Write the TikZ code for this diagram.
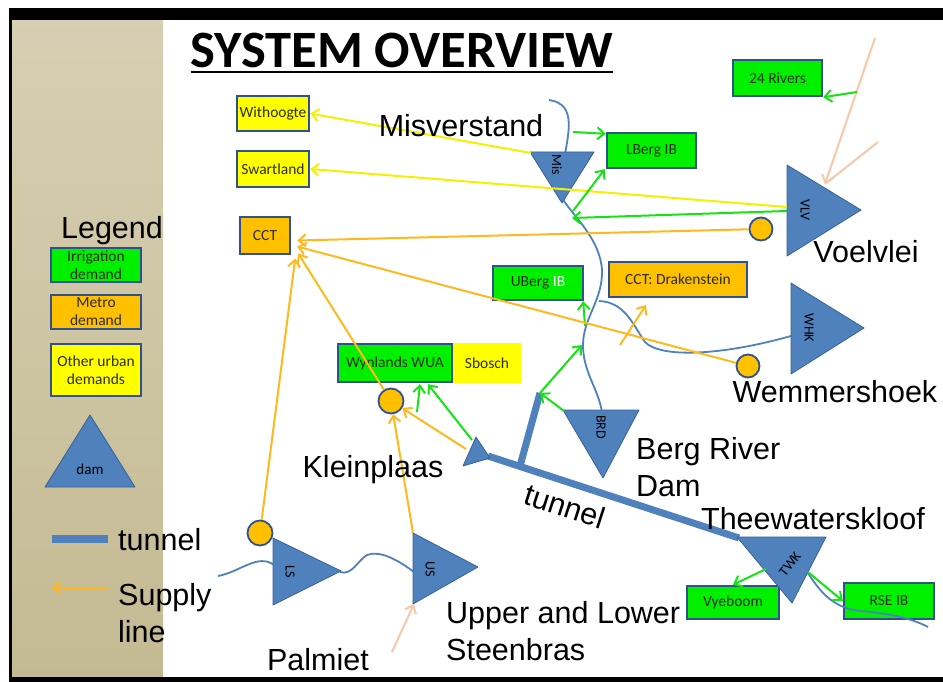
\documentclass[tikz,border=0pt]{standalone}
\usepackage{fontspec}
\setmainfont{Liberation Sans}
\newfontfamily\calibri{Carlito}
\usepackage{tikz}
\usetikzlibrary{arrows.meta,calc}

\definecolor{damblue}{RGB}{79,129,189}
\definecolor{damedge}{RGB}{58,98,150}
\definecolor{boxblue}{RGB}{47,82,143}
\definecolor{irrgreen}{RGB}{0,240,0}
\definecolor{metroorange}{RGB}{255,192,0}
\definecolor{urbanyellow}{RGB}{255,255,0}
\definecolor{linegreen}{RGB}{20,228,20}
\definecolor{lineorange}{RGB}{255,185,30}
\definecolor{lineyellow}{RGB}{245,240,0}
\definecolor{peach}{RGB}{248,200,170}
\definecolor{panel}{RGB}{196,186,146}
\definecolor{boxtext}{RGB}{45,45,30}
\newcommand{\lblfont}{\fontsize{30.5}{37}\selectfont}
\newcommand{\boxfont}{\calibri\fontsize{15.5}{18}\selectfont}

\begin{document}
\begin{tikzpicture}[x=1pt, y=-1pt,
  every node/.style={font=\lblfont, inner sep=0pt},
  demand/.style={draw=boxblue, line width=2.4pt, font=\boxfont, text=boxtext, align=center},
  irrig/.style={demand, fill=irrgreen},
  metro/.style={demand, fill=metroorange},
  urban/.style={demand, fill=urbanyellow},
  damshape/.style={fill=damblue, draw=damedge, line width=0.8pt, line join=round},
  damname/.style={font=\calibri\fontsize{14}{16}\selectfont, rotate=-90},
  offtake/.style={circle, draw=boxblue, fill=metroorange, line width=1.8pt, minimum size=23pt},
  river/.style={draw=damblue, line width=1.8pt},
  tunnelline/.style={draw=damblue, line width=7pt},
  flowtip/.style={-{Straight Barb[length=7pt,width=12pt]}},
  irrflow/.style={flowtip, draw=linegreen, line width=2pt},
  metroflow/.style={flowtip, draw=lineorange, line width=2pt},
  urbanflow/.style={flowtip, draw=lineyellow, line width=2pt},
  inflow/.style={flowtip, draw=peach, line width=2pt}]
  \useasboundingbox (0,0) rectangle (943,682);
  % frame and legend panel
  \fill[white] (0,0) rectangle (943,682);
  \shade[top color=panel!70!white, bottom color=panel] (11,20) rectangle (163,678);
  \fill[black] (9,8) rectangle (943,20);
  \fill[black] (9,8) rectangle (12,682);
  \fill[black] (9,677) rectangle (943,682);
  % title
  \node[anchor=base, font=\calibri\bfseries\fontsize{52.5}{60}\selectfont] (title) at (402,68) {SYSTEM OVERVIEW};
  \draw[line width=2.5pt] ([yshift=-4pt]title.base west) -- ([yshift=-4pt]title.base east);

  % legend
  \node[anchor=base] (legend) at (112,238) {Legend};
  \node[irrig, minimum width=90, minimum height=34] (legirr) at (96,265) {Irrigation\\demand};
  \node[metro, minimum width=90, minimum height=34] (legmetro) at (96,312) {Metro\\demand};
  \node[urban, minimum width=90, minimum height=52] (legurban) at (96,370) {Other urban\\demands};
  \filldraw[damshape] (90,415) -- (135,487) -- (45,487) -- cycle;
  \node[font=\calibri\fontsize{15}{16}\selectfont] (legdam) at (90,469) {dam};
  \coordinate (legtunA) at (52,539);
  \coordinate (legtunB) at (108,539);
  \draw[tunnelline, line width=8pt] (legtunA) -- (legtunB);
  \node[anchor=base west] (legtun) at (118,550) {tunnel};
  \coordinate (legsupA) at (108,588);
  \coordinate (legsupB) at (52,588);
  \draw[metroflow] (legsupA) -- (legsupB);
  \node[anchor=north west, align=left] (legsup) at (118,583) {Supply\\line};

  % demands
  \node[urban, minimum width=72, minimum height=35] (withoogte) at (273,113.5) {Withoogte};
  \node[urban, minimum width=72, minimum height=36] (swartland) at (273,169) {Swartland};
  \node[metro, minimum width=50, minimum height=37] (cct) at (265,235.5) {CCT};
  \node[irrig, minimum width=89, minimum height=36] (rivers24) at (777.5,78) {24 Rivers};
  \node[irrig, minimum width=89, minimum height=35] (lberg) at (651.5,150.5) {LBerg IB};
  \node[irrig, minimum width=90, minimum height=34] (uberg) at (538,283) {UBerg \textcolor{white}{IB}};
  \node[metro, minimum width=138, minimum height=35] (drakenstein) at (678,279.5) {CCT: Drakenstein};
  \node[fill=urbanyellow, font=\boxfont, text=boxtext, minimum width=68, minimum height=40] (sbosch) at (487,363) {Sbosch};
  \node[irrig, minimum width=114, minimum height=38] (wynlands) at (395,363) {Wynlands WUA};
  \node[irrig, minimum width=92, minimum height=33] (vyeboom) at (733,602.5) {Vyeboom};
  \node[irrig, minimum width=90, minimum height=36] (rseib) at (889,601) {RSE IB};

  % rivers
  \draw[river] (549,100) .. controls (578,104) and (568,135) .. (563,165);
  \draw[river] (562,198) .. controls (572,215) and (600,238) .. (602,270)
    .. controls (603,300) and (583,318) .. (583,345)
    .. controls (583,372) and (598,388) .. (602,412);
  \draw[river] (599,301) .. controls (625,302) and (633,325) .. (645,342)
    .. controls (660,358) and (720,356) .. (791,336);
  \draw[river] (808,573) .. controls (822,595) and (835,608) .. (860,611)
    .. controls (895,614) and (915,620) .. (928,627);
  \draw[river] (218,576) .. controls (240,572) and (258,553) .. (274,565);
  \draw[river] (340,572) .. controls (352,576) and (358,560) .. (367,555)
    .. controls (380,550) and (398,560) .. (414,572);

  % tunnel
  \coordinate (tunS) at (488,456);
  \coordinate (twkT) at (739,538);
  \coordinate (tunJ) at (520,466);
  \coordinate (tunT) at (540,393);
  \draw[tunnelline] (tunS) -- (twkT);
  \draw[tunnelline] (tunJ) -- (tunT);

  % dams
  \filldraw[damshape] (530,152) -- (594,152) -- (562,203) -- cycle;
  \node[damname] (mis) at (557,165) {Mis};
  \filldraw[damshape] (787,165) -- (861,210) -- (787,256) -- cycle;
  \node[damname] (vlv) at (805,210) {VLV};
  \filldraw[damshape] (791,283) -- (864,328) -- (791,374) -- cycle;
  \node[damname] (whk) at (809,328) {WHK};
  \filldraw[damshape] (563,410) -- (639,410) -- (603,478) -- cycle;
  \node[damname] (brd) at (601,427) {BRD};
  \filldraw[damshape] (463,466) -- (476,437) -- (490,458) -- cycle;
  \filldraw[damshape] (273,538) -- (341,571) -- (273,605) -- cycle;
  \node[damname] (ls) at (290,572) {LS};
  \filldraw[damshape] (413,533) -- (478,567) -- (413,604) -- cycle;
  \node[damname] (us) at (430,569) {US};
  \filldraw[damshape] (737,537) -- (826,537) -- (792,603) -- cycle;
  \node[damname, rotate=142] (twk) at (790,564) {TWK};

  % off-takes
  \node[offtake] (vlvc) at (761,229) {};
  \node[offtake] (whkc) at (748,366) {};
  \node[offtake, minimum size=25pt] (klc) at (391,401) {};
  \node[offtake, minimum size=25pt] (lsc) at (260,533) {};

  % tap points
  \coordinate (misW) at (531,153);
  \coordinate (vlvW) at (787,207);
  \coordinate (vlvG) at (787,211);
  \coordinate (vlvP) at (825,184);
  \coordinate (inS) at (875,38);
  \coordinate (inB) at (878,142);
  \coordinate (inJ) at (857,92);
  \coordinate (bergA) at (572,218);
  \coordinate (bergB) at (573,211);
  \coordinate (bergC) at (573,132);
  \coordinate (bergD) at (582,345);
  \coordinate (bergE) at (585,326);
  \coordinate (brdA) at (564,411);
  \coordinate (klA) at (472,440);
  \coordinate (klB) at (466,449);
  \coordinate (klD) at (417,412);
  \coordinate (usT) at (413,533);
  \coordinate (usP) at (414,604);
  \coordinate (palS) at (392,652);
  \coordinate (twkA) at (766,569);
  \coordinate (twkB) at (808,572);
  \coordinate (drkA) at (620,345);
  \coordinate (drkB) at (646,305);

  % inflows
  \draw[inflow] (inS) -- (vlvP);
  \draw[draw=peach, line width=2pt] (inB) -- (vlvP);
  \draw[inflow] (palS) -- (usP);

  % urban supply
  \draw[urbanflow] (misW) -- (withoogte.east);
  \draw[urbanflow] (vlvW) -- (swartland.east);

  % irrigation supply
  \draw[irrflow] (inJ) -- (rivers24.south east);
  \draw[irrflow] (vlvG) -- (bergA);
  \draw[irrflow] (bergB) -- ([xshift=-1pt]lberg.south west);
  \draw[irrflow] (bergC) -- ([yshift=-2pt]lberg.north west);
  \draw[irrflow] (brdA) -- (tunT);
  \draw[irrflow] (tunT) -- (bergD);
  \draw[irrflow] (bergE) -- ([xshift=-1pt]uberg.south east);
  \draw[irrflow] (klA) -- ($(wynlands.south)+(33,1)$);
  \draw[irrflow] (klD) -- ($(wynlands.south)+(25,1)$);
  \draw[irrflow] (twkA) -- (vyeboom.north);
  \draw[irrflow] (twkB) -- (rseib.west);

  % metro supply
  \draw[metroflow] (vlvc) -- ($(cct.east)+(6,5)$);
  \draw[metroflow] (whkc) -- ($(cct.east)+(6,11)$);
  \draw[metroflow] (klc) -- ($(cct.east)+(7,18)$);
  \draw[metroflow] (lsc) -- ($(cct.east)+(4,23)$);
  \draw[metroflow] (klB) -- (klc);
  \draw[metroflow] (usT) -- (klc);
  \draw[metroflow] (drkA) -- (drkB);

  % names
  \node[anchor=base] (misname) at (461,137) {Misverstand};
  \node[anchor=base] (vlvname) at (866,262) {Voelvlei};
  \node[anchor=base] (whkname) at (835,402) {Wemmershoek};
  \node[anchor=north west, align=left] (brdname) at (636,437) {Berg River\\Dam};
  \node[anchor=base] (klname) at (373,477) {Kleinplaas};
  \node[rotate=-18] (tunname) at (565,506) {tunnel};
  \node[anchor=base] (twkname) at (813,529) {Theewaterskloof};
  \node[anchor=north west, align=left] (stbname) at (446,601) {Upper and Lower\\Steenbras};
  \node[anchor=base] (palname) at (318,670) {Palmiet};
\end{tikzpicture}
\end{document}
